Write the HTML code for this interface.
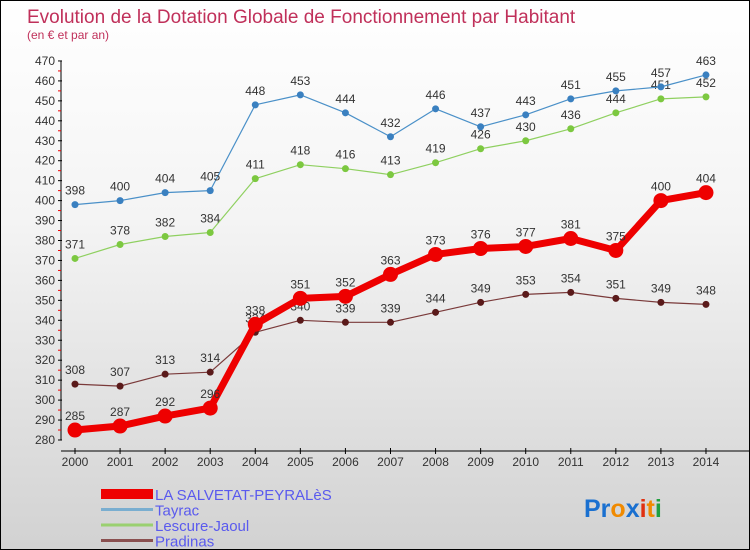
<!DOCTYPE html>
<html><head><meta charset="utf-8"><style>
body{margin:0}
#c{width:748px;height:548px;border:1px solid #000;background:linear-gradient(#fff,#f4f4f4 40%,#d2d2d2);position:relative;overflow:hidden;font-family:"Liberation Sans",sans-serif}
</style></head><body>
<div id="c">
<svg id="s" width="748" height="548" xmlns="http://www.w3.org/2000/svg"></svg>
</div>
<script>
const years=[2000,2001,2002,2003,2004,2005,2006,2007,2008,2009,2010,2011,2012,2013,2014];
const salvetat=[285,287,292,296,338,351,352,363,373,376,377,381,375,400,404];
const tayrac=[398,400,404,405,448,453,444,432,446,437,443,451,455,457,463];
const lescure=[371,378,382,384,411,418,416,413,419,426,430,436,444,451,452];
const pradinas=[308,307,313,314,334,340,339,339,344,349,353,354,351,349,348];
const yTicks=[280,290,300,310,320,330,340,350,360,370,380,390,400,410,420,430,440,450,460,470];
const NS='http://www.w3.org/2000/svg';
const s=document.getElementById('s');
const X=i=>74+i*45.07;
const Y=v=>439-(v-280)*1.995;
function el(t,a,p){const e=document.createElementNS(NS,t);for(const k in a)e.setAttribute(k,a[k]);(p||s).appendChild(e);return e;}
function tx(x,y,str,a){const e=el('text',Object.assign({x:x,y:y},a));e.textContent=str;return e;}
let t=tx(26,22,'Evolution de la Dotation Globale de Fonctionnement par Habitant',{fill:'#c0305a','font-size':19});

t=tx(26,38,'(en € et par an)',{fill:'#c0305a','font-size':12});

// axes
let ax=el('line',{x1:60,y1:Y(470),x2:60,y2:Y(280),stroke:'#000'});

yTicks.forEach(v=>{el('line',{x1:57,x2:61,y1:Y(v),y2:Y(v),stroke:'#000'});
 el('line',{x1:57,x2:60,y1:Y(v+5),y2:Y(v+5),stroke:v<470?'#e00':'none'});
 const l=tx(54,Y(v)+4,v,{'text-anchor':'end','font-size':12,fill:'#333'});
 });
ax=el('line',{x1:60,y1:450,x2:748,y2:450,stroke:'#000'});

years.forEach((yr,i)=>{el('line',{x1:X(i),x2:X(i),y1:447,y2:453,stroke:'#000'});
 const l=tx(X(i),465,yr,{'text-anchor':'middle','font-size':12,fill:'#333'});
 });
function series(data,color,dot,w,r,name,fs){
 const g=el('g',{});
 el('polyline',{points:data.map((v,i)=>X(i)+','+Y(v)).join(' '),fill:'none',stroke:color,'stroke-width':w,'stroke-linejoin':'round'},g);
 data.forEach((v,i)=>{const c=el('circle',{cx:X(i),cy:Y(v),r:r,fill:dot},g);
  
  tx(X(i),Y(v)-10,v,{'text-anchor':'middle','font-size':fs,fill:'#333'},g);});
}
series(pradinas,'#7a3a3a','#5a1a1a',1.2,3.5,'pradinas-series',12);
series(lescure,'#8fd060','#7cc840',1.2,3.5,'lescure-series',12);
series(tayrac,'#4a90c8','#3a80c0',1.2,3.5,'tayrac-series',12);
series(salvetat,'#ee0000','#ee0000',7,7.5,'salvetat-series',12);
// legend
const leg=[['LA SALVETAT-PEYRALèS','#ee0000',10],['Tayrac','#7aaed0',3],['Lescure-Jaoul','#9ad070',3],['Pradinas','#8a5050',3]];
leg.forEach((d,i)=>{const g=el('g',{});
 const y=493+i*15.5;el('line',{x1:100,x2:152,y1:y,y2:y,stroke:d[1],'stroke-width':d[2]},g);
 tx(154,y+6,d[0],{'font-size':15,fill:'#5a5aee'},g);});
// logo
const lg=el('text',{x:583,y:516,'font-size':25,'font-weight':'bold'});

[['Pr','#1a70d0'],['o','#f08a00'],['x','#1a70d0'],['i','#e03010'],['t','#f08a00'],['i','#20a040']].forEach(p=>{const ts=el('tspan',{fill:p[1]},lg);ts.textContent=p[0];});
</script>
</body></html>
